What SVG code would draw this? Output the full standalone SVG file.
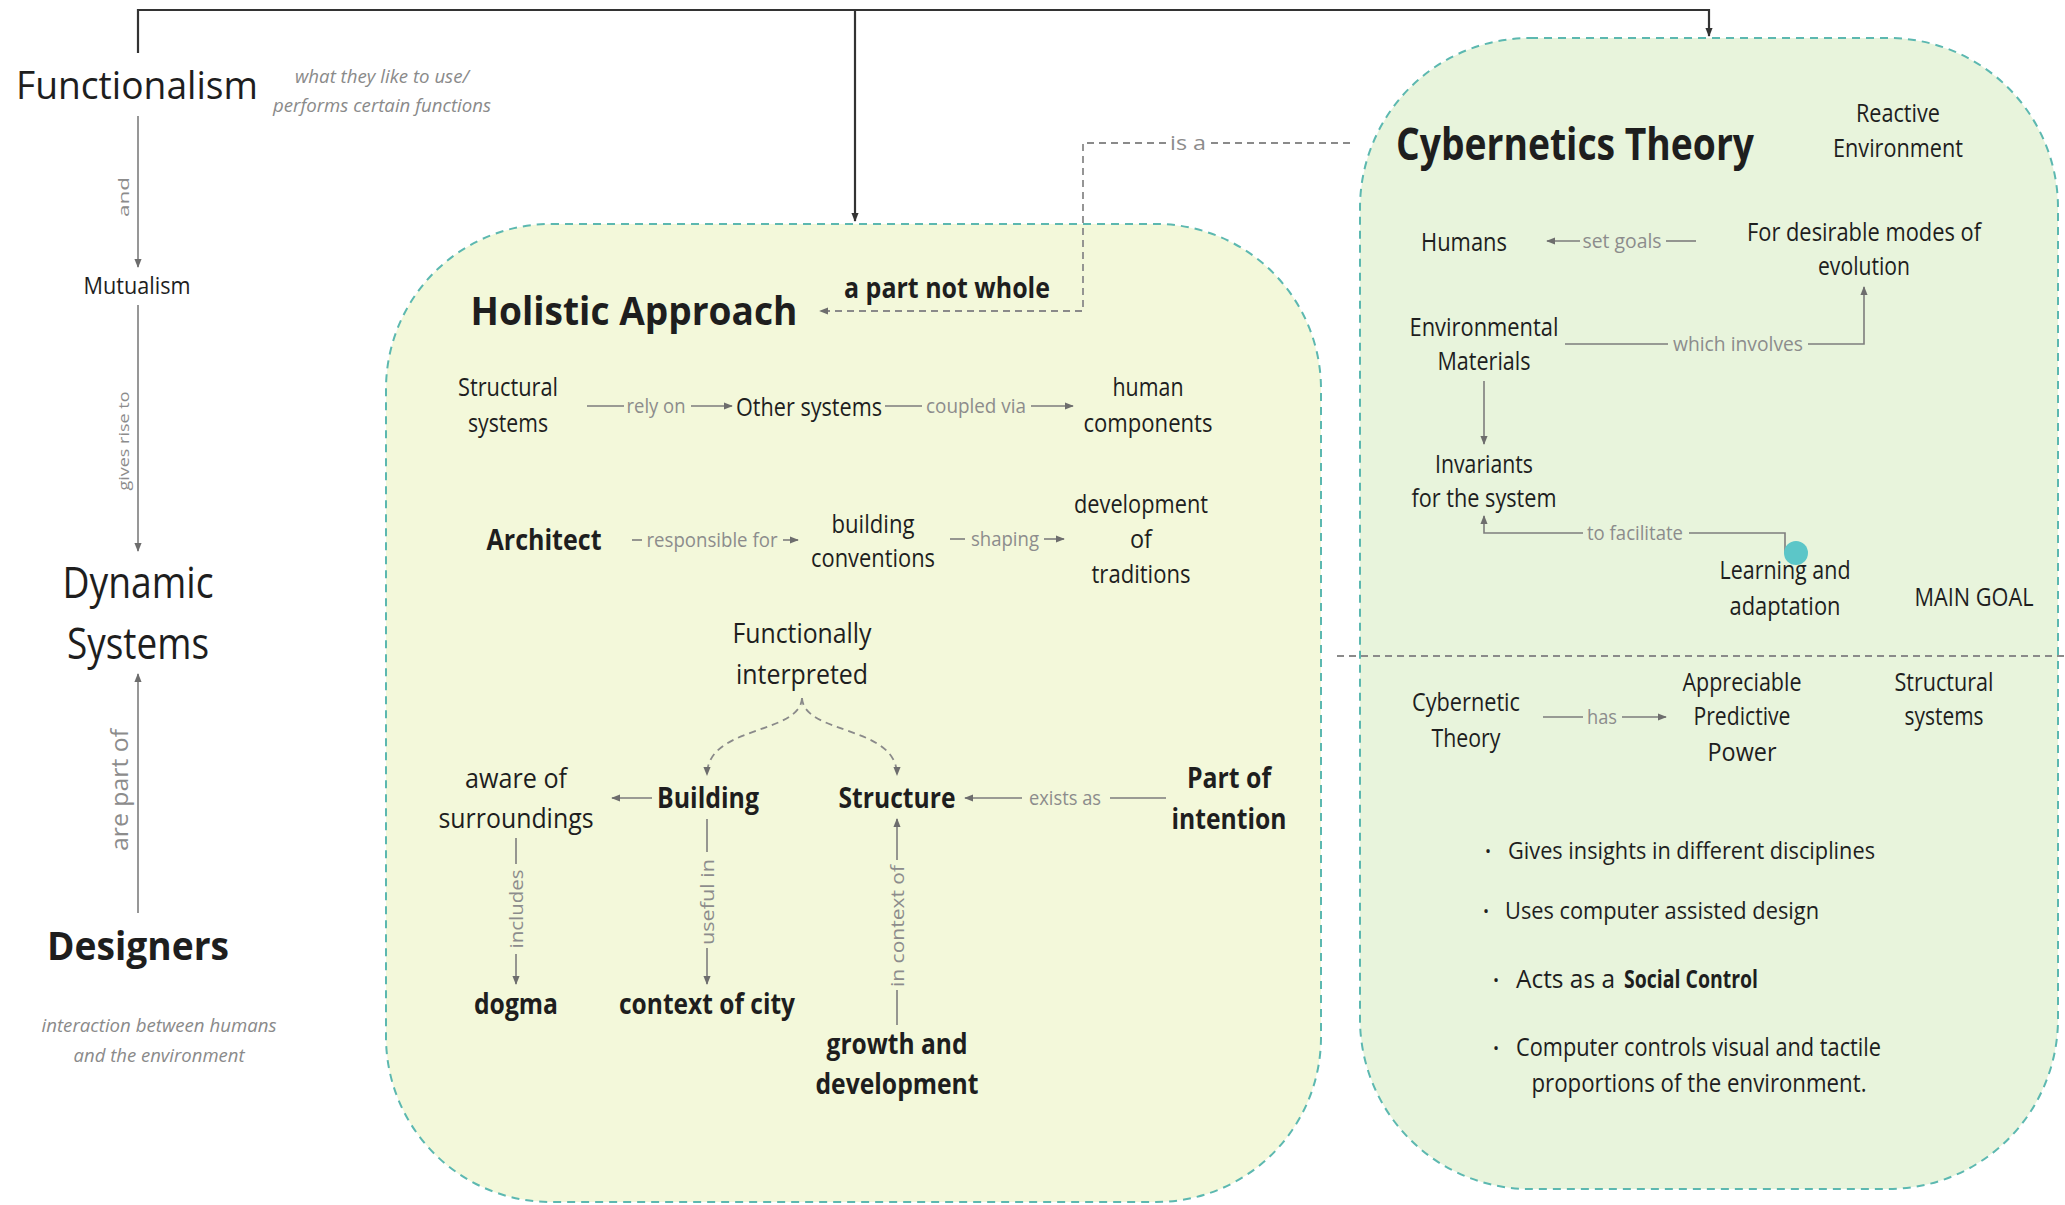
<svg xmlns="http://www.w3.org/2000/svg" width="2065" height="1205" viewBox="0 0 2065 1205">
  <style>
    text { font-family: "Open Sans", "Noto Sans", "DejaVu Sans", sans-serif; fill: #1e1e1e; }
    .c { text-anchor: middle; }
    .b { font-weight: 700; }
    .n25 { font-size: 25px; }
    .n28 { font-size: 28px; }
    .lbl { font-size: 20px; fill: #8c8c8c; text-anchor: middle; }
    .note { font-size: 19px; font-style: italic; fill: #8a8a8a; text-anchor: middle; }
    .bul { font-size: 16px; text-anchor: middle; }
    .link { fill: none; stroke: #7d7d7d; stroke-width: 1.6; }
    .main { fill: none; stroke: #333; stroke-width: 2.2; }
    .dash { fill: none; stroke: #8a8a8a; stroke-width: 1.8; stroke-dasharray: 7 5; }
    .frame { stroke: #5cb8b0; stroke-width: 2; stroke-dasharray: 8 6; }
  </style>
  <defs>
    <marker id="arr" viewBox="0 0 10 10" refX="9" refY="5" markerWidth="9" markerHeight="9" markerUnits="userSpaceOnUse" orient="auto">
      <path d="M0,1 L10,5 L0,9 Z" fill="#6d6d6d"/>
    </marker>
    <marker id="arrDark" viewBox="0 0 10 10" refX="9" refY="5" markerWidth="9" markerHeight="9" markerUnits="userSpaceOnUse" orient="auto">
      <path d="M0,1 L10,5 L0,9 Z" fill="#333"/>
    </marker>
  </defs>

  <rect width="2065" height="1205" fill="#ffffff"/>

  <!-- container panels -->
  <g id="holistic-panel">
    <rect class="frame" x="386" y="224" width="935" height="978" rx="165" ry="165" fill="#f3f8da"/>
  </g>
  <g id="cybernetics-panel">
    <rect class="frame" x="1360" y="38" width="698" height="1151" rx="170" ry="170" fill="#e8f4dc"/>
    <line x1="1337" y1="656" x2="2065" y2="656" class="dash"/>
  </g>

  <!-- connectors -->
  <g id="connectors">
    <path class="main" d="M138,53 V10 H1709 V36" marker-end="url(#arrDark)"/>
    <path class="main" d="M855,10 V221" marker-end="url(#arrDark)"/>

    <line class="link" x1="138" y1="116" x2="138" y2="267" marker-end="url(#arr)"/>
    <line class="link" x1="138" y1="305" x2="138" y2="551" marker-end="url(#arr)"/>
    <line class="link" x1="138" y1="913" x2="138" y2="674" marker-end="url(#arr)"/>

    <path class="dash" d="M1350,143 H1210"/>
    <path class="dash" d="M1166,143 H1083 V311 H820" marker-end="url(#arr)"/>

    <line class="link" x1="587" y1="406" x2="624" y2="406"/>
    <line class="link" x1="691" y1="406" x2="732" y2="406" marker-end="url(#arr)"/>
    <line class="link" x1="885" y1="406" x2="922" y2="406"/>
    <line class="link" x1="1031" y1="406" x2="1073" y2="406" marker-end="url(#arr)"/>

    <line class="link" x1="632" y1="540" x2="642" y2="540"/>
    <line class="link" x1="783" y1="540" x2="798" y2="540" marker-end="url(#arr)"/>
    <line class="link" x1="950" y1="539" x2="965" y2="539"/>
    <line class="link" x1="1044" y1="539" x2="1064" y2="539" marker-end="url(#arr)"/>

    <path class="dash" d="M802,698 C800,735 707,725 707,775" marker-end="url(#arr)"/>
    <path class="dash" d="M802,698 C804,735 897,725 897,775" marker-end="url(#arr)"/>

    <line class="link" x1="652" y1="798" x2="612" y2="798" marker-end="url(#arr)"/>
    <line class="link" x1="1166" y1="798" x2="1110" y2="798"/>
    <line class="link" x1="1022" y1="798" x2="965" y2="798" marker-end="url(#arr)"/>

    <line class="link" x1="516" y1="838" x2="516" y2="864"/>
    <line class="link" x1="516" y1="954" x2="516" y2="984" marker-end="url(#arr)"/>
    <line class="link" x1="707" y1="819" x2="707" y2="852"/>
    <line class="link" x1="707" y1="948" x2="707" y2="984" marker-end="url(#arr)"/>
    <line class="link" x1="897" y1="1025" x2="897" y2="990"/>
    <line class="link" x1="897" y1="860" x2="897" y2="819" marker-end="url(#arr)"/>

    <line class="link" x1="1580" y1="241" x2="1547" y2="241" marker-end="url(#arr)"/>
    <line class="link" x1="1666" y1="241" x2="1696" y2="241"/>
    <line class="link" x1="1565" y1="344" x2="1668" y2="344"/>
    <path class="link" d="M1808,344 H1864 V287" marker-end="url(#arr)"/>
    <line class="link" x1="1484" y1="381" x2="1484" y2="444" marker-end="url(#arr)"/>
    <path class="link" d="M1785,553 V533 H1689"/>
    <path class="link" d="M1583,533 H1484 V516" marker-end="url(#arr)"/>
    <line class="link" x1="1543" y1="717" x2="1583" y2="717"/>
    <line class="link" x1="1622" y1="717" x2="1666" y2="717" marker-end="url(#arr)"/>
  </g>

  <!-- connector labels -->
  <g id="connector-labels">
    <text class="lbl" style="font-size:15px" x="124" y="202" transform="rotate(-90 124 197)" textLength="40" lengthAdjust="spacingAndGlyphs">and</text>
    <text class="lbl" style="font-size:15px" x="124" y="446" transform="rotate(-90 124 441)" textLength="99" lengthAdjust="spacingAndGlyphs">gives rise to</text>
    <text class="lbl" style="font-size:23px" x="120" y="798" transform="rotate(-90 120 790)" textLength="122" lengthAdjust="spacingAndGlyphs">are part of</text>
    <text class="lbl" x="1188" y="150" textLength="36" lengthAdjust="spacingAndGlyphs">is a</text>
    <text class="lbl" x="656" y="413" textLength="59" lengthAdjust="spacingAndGlyphs">rely on</text>
    <text class="lbl" x="976" y="413" textLength="100" lengthAdjust="spacingAndGlyphs">coupled via</text>
    <text class="lbl" x="712" y="547" textLength="131" lengthAdjust="spacingAndGlyphs">responsible for</text>
    <text class="lbl" x="1005" y="546" textLength="68" lengthAdjust="spacingAndGlyphs">shaping</text>
    <text class="lbl" x="1065" y="805" textLength="72" lengthAdjust="spacingAndGlyphs">exists as</text>
    <text class="lbl" style="font-size:19px" x="516" y="916" transform="rotate(-90 516 909)" textLength="79" lengthAdjust="spacingAndGlyphs">includes</text>
    <text class="lbl" style="font-size:19px" x="707" y="909" transform="rotate(-90 707 902)" textLength="86" lengthAdjust="spacingAndGlyphs">useful in</text>
    <text class="lbl" style="font-size:19px" x="897" y="933" transform="rotate(-90 897 926)" textLength="122" lengthAdjust="spacingAndGlyphs">in context of</text>
    <text class="lbl" x="1622" y="248" textLength="79" lengthAdjust="spacingAndGlyphs">set goals</text>
    <text class="lbl" x="1738" y="351" textLength="130" lengthAdjust="spacingAndGlyphs">which involves</text>
    <text class="lbl" x="1635" y="540" textLength="96" lengthAdjust="spacingAndGlyphs">to facilitate</text>
    <text class="lbl" x="1602" y="724" textLength="30" lengthAdjust="spacingAndGlyphs">has</text>
  </g>

  <!-- left column -->
  <g id="functionalism">
    <text class="c" x="137" y="99" font-size="38" textLength="242" lengthAdjust="spacingAndGlyphs">Functionalism</text>
    <text class="note" x="382" y="83" textLength="174" lengthAdjust="spacingAndGlyphs">what they like to use/</text>
    <text class="note" x="382" y="112" textLength="218" lengthAdjust="spacingAndGlyphs">performs certain functions</text>
  </g>
  <g id="mutualism">
    <text class="c" x="137" y="294" font-size="24" textLength="107" lengthAdjust="spacingAndGlyphs">Mutualism</text>
  </g>
  <g id="dynamic-systems">
    <text class="c" x="138" y="598" font-size="44" textLength="151" lengthAdjust="spacingAndGlyphs">Dynamic</text>
    <text class="c" x="138" y="659" font-size="44" textLength="142" lengthAdjust="spacingAndGlyphs">Systems</text>
  </g>
  <g id="designers">
    <text class="c b" x="138" y="960" font-size="40" textLength="182" lengthAdjust="spacingAndGlyphs">Designers</text>
    <text class="note" x="159" y="1032" textLength="235" lengthAdjust="spacingAndGlyphs">interaction between humans</text>
    <text class="note" x="159" y="1062" textLength="171" lengthAdjust="spacingAndGlyphs">and the environment</text>
  </g>

  <!-- holistic approach nodes -->
  <g id="holistic-approach">
    <text class="c b" x="634" y="325" font-size="40" textLength="327" lengthAdjust="spacingAndGlyphs">Holistic Approach</text>
  </g>
  <g id="a-part-not-whole">
    <text class="c b" x="947" y="298" font-size="28" textLength="206" lengthAdjust="spacingAndGlyphs">a part not whole</text>
  </g>
  <g id="structural-systems">
    <text class="c n25" x="508" y="396" textLength="100" lengthAdjust="spacingAndGlyphs">Structural</text>
    <text class="c n25" x="508" y="432" textLength="80" lengthAdjust="spacingAndGlyphs">systems</text>
  </g>
  <g id="other-systems">
    <text class="c n25" x="809" y="416" textLength="146" lengthAdjust="spacingAndGlyphs">Other systems</text>
  </g>
  <g id="human-components">
    <text class="c n25" x="1148" y="396" textLength="71" lengthAdjust="spacingAndGlyphs">human</text>
    <text class="c n25" x="1148" y="432" textLength="129" lengthAdjust="spacingAndGlyphs">components</text>
  </g>
  <g id="architect">
    <text class="c b n28" x="544" y="550" textLength="115" lengthAdjust="spacingAndGlyphs">Architect</text>
  </g>
  <g id="building-conventions">
    <text class="c n25" x="873" y="533" textLength="83" lengthAdjust="spacingAndGlyphs">building</text>
    <text class="c n25" x="873" y="567" textLength="124" lengthAdjust="spacingAndGlyphs">conventions</text>
  </g>
  <g id="development-of-traditions">
    <text class="c n25" x="1141" y="513" textLength="134" lengthAdjust="spacingAndGlyphs">development</text>
    <text class="c n25" x="1141" y="548" textLength="22" lengthAdjust="spacingAndGlyphs">of</text>
    <text class="c n25" x="1141" y="583" textLength="99" lengthAdjust="spacingAndGlyphs">traditions</text>
  </g>
  <g id="functionally-interpreted">
    <text class="c n28" x="802" y="643" textLength="139" lengthAdjust="spacingAndGlyphs">Functionally</text>
    <text class="c n28" x="802" y="684" textLength="132" lengthAdjust="spacingAndGlyphs">interpreted</text>
  </g>
  <g id="aware-of-surroundings">
    <text class="c n28" x="516" y="788" textLength="102" lengthAdjust="spacingAndGlyphs">aware of</text>
    <text class="c n28" x="516" y="828" textLength="155" lengthAdjust="spacingAndGlyphs">surroundings</text>
  </g>
  <g id="building">
    <text class="c b n28" x="708" y="808" textLength="102" lengthAdjust="spacingAndGlyphs">Building</text>
  </g>
  <g id="structure">
    <text class="c b n28" x="897" y="808" textLength="117" lengthAdjust="spacingAndGlyphs">Structure</text>
  </g>
  <g id="part-of-intention">
    <text class="c b n28" x="1229" y="788" textLength="84" lengthAdjust="spacingAndGlyphs">Part of</text>
    <text class="c b n28" x="1229" y="829" textLength="115" lengthAdjust="spacingAndGlyphs">intention</text>
  </g>
  <g id="dogma">
    <text class="c b n28" x="516" y="1014" textLength="84" lengthAdjust="spacingAndGlyphs">dogma</text>
  </g>
  <g id="context-of-city">
    <text class="c b n28" x="707" y="1014" textLength="176" lengthAdjust="spacingAndGlyphs">context of city</text>
  </g>
  <g id="growth-and-development">
    <text class="c b n28" x="897" y="1054" textLength="141" lengthAdjust="spacingAndGlyphs">growth and</text>
    <text class="c b n28" x="897" y="1094" textLength="163" lengthAdjust="spacingAndGlyphs">development</text>
  </g>

  <!-- cybernetics theory nodes -->
  <g id="cybernetics-theory">
    <text class="c b" x="1575" y="160" font-size="44" textLength="358" lengthAdjust="spacingAndGlyphs">Cybernetics Theory</text>
  </g>
  <g id="reactive-environment">
    <text class="c n25" x="1898" y="122" textLength="84" lengthAdjust="spacingAndGlyphs">Reactive</text>
    <text class="c n25" x="1898" y="157" textLength="130" lengthAdjust="spacingAndGlyphs">Environment</text>
  </g>
  <g id="humans">
    <text class="c n25" x="1464" y="251" textLength="86" lengthAdjust="spacingAndGlyphs">Humans</text>
  </g>
  <g id="desirable-modes">
    <text class="c n25" x="1864" y="241" textLength="234" lengthAdjust="spacingAndGlyphs">For desirable modes of</text>
    <text class="c n25" x="1864" y="275" textLength="92" lengthAdjust="spacingAndGlyphs">evolution</text>
  </g>
  <g id="environmental-materials">
    <text class="c n25" x="1484" y="336" textLength="149" lengthAdjust="spacingAndGlyphs">Environmental</text>
    <text class="c n25" x="1484" y="370" textLength="93" lengthAdjust="spacingAndGlyphs">Materials</text>
  </g>
  <g id="invariants">
    <text class="c n25" x="1484" y="473" textLength="98" lengthAdjust="spacingAndGlyphs">Invariants</text>
    <text class="c n25" x="1484" y="507" textLength="145" lengthAdjust="spacingAndGlyphs">for the system</text>
  </g>
  <g id="learning-adaptation">
    <circle cx="1796" cy="553" r="12" fill="#5cc6c8"/>
    <text class="c n25" x="1785" y="579" textLength="131" lengthAdjust="spacingAndGlyphs">Learning and</text>
    <text class="c n25" x="1785" y="615" textLength="111" lengthAdjust="spacingAndGlyphs">adaptation</text>
  </g>
  <g id="main-goal">
    <text class="c n25" x="1974" y="606" textLength="119" lengthAdjust="spacingAndGlyphs">MAIN GOAL</text>
  </g>
  <g id="cybernetic-theory">
    <text class="c n25" x="1466" y="711" textLength="108" lengthAdjust="spacingAndGlyphs">Cybernetic</text>
    <text class="c n25" x="1466" y="747" textLength="69" lengthAdjust="spacingAndGlyphs">Theory</text>
  </g>
  <g id="predictive-power">
    <text class="c n25" x="1742" y="691" textLength="119" lengthAdjust="spacingAndGlyphs">Appreciable</text>
    <text class="c n25" x="1742" y="725" textLength="97" lengthAdjust="spacingAndGlyphs">Predictive</text>
    <text class="c n25" x="1742" y="761" textLength="69" lengthAdjust="spacingAndGlyphs">Power</text>
  </g>
  <g id="structural-systems-2">
    <text class="c n25" x="1944" y="691" textLength="99" lengthAdjust="spacingAndGlyphs">Structural</text>
    <text class="c n25" x="1944" y="725" textLength="79" lengthAdjust="spacingAndGlyphs">systems</text>
  </g>
  <g id="bullet-list">
    <text class="bul" x="1488" y="857">•</text>
    <text x="1508" y="859" font-size="24" textLength="367" lengthAdjust="spacingAndGlyphs">Gives insights in different disciplines</text>
    <text class="bul" x="1486" y="917">•</text>
    <text x="1505" y="919" font-size="24" textLength="314" lengthAdjust="spacingAndGlyphs">Uses computer assisted design</text>
    <text class="bul" x="1496" y="986">•</text>
    <text class="n25" x="1516" y="988" textLength="99" lengthAdjust="spacingAndGlyphs">Acts as a</text>
    <text class="n25 b" x="1624" y="988" textLength="134" lengthAdjust="spacingAndGlyphs">Social Control</text>
    <text class="bul" x="1496" y="1054">•</text>
    <text class="n25" x="1516" y="1056" textLength="365" lengthAdjust="spacingAndGlyphs">Computer controls visual and tactile</text>
    <text class="c n25" x="1699" y="1092" textLength="335" lengthAdjust="spacingAndGlyphs">proportions of the environment.</text>
  </g>
</svg>
